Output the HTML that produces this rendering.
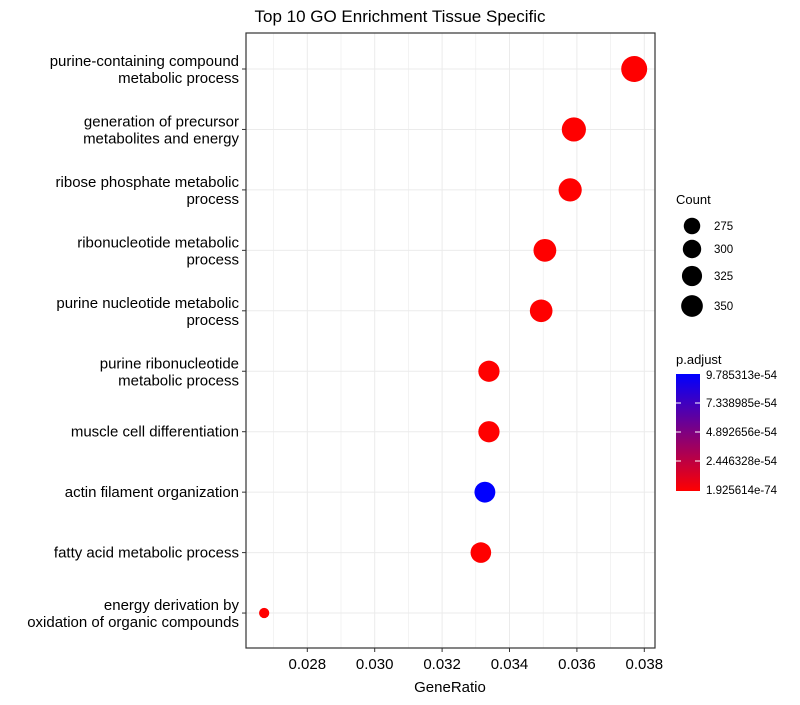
<!DOCTYPE html>
<html><head><meta charset="utf-8"><style>
body{margin:0;background:#fff;font-family:"Liberation Sans",Arial,sans-serif}
</style></head><body>
<svg id="chart" width="800" height="700" xmlns="http://www.w3.org/2000/svg">
<defs><linearGradient id="pg" x1="0" y1="1" x2="0" y2="0">
<stop offset="0" stop-color="#ff0000"/><stop offset="1" stop-color="#0000ff"/></linearGradient></defs>
<text x="400" y="22" font-size="17" text-anchor="middle">Top 10 GO Enrichment Tissue Specific</text>
<g id="grid"></g>
<g id="pts"></g>
<rect x="246" y="33" width="409" height="615" fill="none" stroke="#333" stroke-width="1.2"/>
<g id="axes"></g>
<text x="450" y="692" font-size="15" text-anchor="middle">GeneRatio</text>
<g>
<text x="676" y="204" font-size="13">Count</text>
<g id="sizeleg"></g>
</g>
<g>
<text x="676" y="364" font-size="13">p.adjust</text>
<rect x="676" y="374" width="24" height="117" fill="url(#pg)"/>
<g font-size="11.5">
<text x="706" y="379">9.785313e-54</text>
<text x="706" y="407">7.338985e-54</text>
<text x="706" y="436">4.892656e-54</text>
<text x="706" y="465">2.446328e-54</text>
<text x="706" y="494">1.925614e-74</text>
</g>
<g stroke="#fff" stroke-width="1"><line x1="676" y1="403" x2="681" y2="403"/><line x1="695" y1="403" x2="700" y2="403"/><line x1="676" y1="432" x2="681" y2="432"/><line x1="695" y1="432" x2="700" y2="432"/><line x1="676" y1="461" x2="681" y2="461"/><line x1="695" y1="461" x2="700" y2="461"/></g>
</g>
</svg>
<script>
const categories=[["purine-containing compound","metabolic process"],["generation of precursor","metabolites and energy"],["ribose phosphate metabolic","process"],["ribonucleotide metabolic","process"],["purine nucleotide metabolic","process"],["purine ribonucleotide","metabolic process"],["muscle cell differentiation"],["actin filament organization"],["fatty acid metabolic process"],["energy derivation by","oxidation of organic compounds"]];
const geneRatio=[0.03770,0.03591,0.03580,0.03505,0.03494,0.03339,0.03339,0.03327,0.03315,0.02672];
const counts=[377,352,340,335,333,316,316,312,309,222];
const padj=[0.0,0.0,0.0,0.0,0.0,0.0,0.0,9.785313,0.0,0.0];
const xTicks=[0.028,0.030,0.032,0.034,0.036,0.038];
const xTickLabels=["0.028","0.030","0.032","0.034","0.036","0.038"];
const legendCounts=[275,300,325,350];
const NS="http://www.w3.org/2000/svg";
const X=v=>307.3+(v-0.028)*33700;
const Y=i=>69+i*60.45;
const R=c=>Math.sqrt(Math.max(4,75+0.92*(c-275)));
const pmax=9.785313;
function col(p){const t=p/pmax;return `rgb(${Math.round(255*(1-t))},0,${Math.round(255*t)})`;}
function mk(tag,attrs,parent){const e=document.createElementNS(NS,tag);for(const k in attrs)e.setAttribute(k,attrs[k]);parent.appendChild(e);return e;}
const grid=document.getElementById('grid'),pts=document.getElementById('pts'),axes=document.getElementById('axes');
for(let v=0.027;v<=0.0385;v+=0.001){const x=X(v);if(x<246||x>655)continue;const major=Math.abs(Math.round(v*1000)%2)===0;
const l=mk('line',{x1:x,x2:x,y1:33,y2:648,stroke:'#ebebeb','stroke-width':major?1:0.6},grid);

}
categories.forEach((c,i)=>{const y=Y(i);
const gl=mk('line',{x1:246,x2:655,y1:y,y2:y,stroke:'#ebebeb'},grid);


mk('line',{x1:242,x2:246,y1:y,y2:y,stroke:'#333'},axes);
const t=mk('text',{x:239,'font-size':15,'text-anchor':'end'},axes);


const off=c.length===2?-3:5;
c.forEach((s,k)=>{const ts=mk('tspan',{x:239,y:y+off+k*17},t);ts.textContent=s;});
const p=mk('circle',{cx:X(geneRatio[i]),cy:y,r:R(counts[i]),fill:col(padj[i])},pts);


});
xTicks.forEach((v,i)=>{const x=X(v);mk('line',{x1:x,x2:x,y1:648,y2:652,stroke:'#333'},axes);
const t=mk('text',{x:x,y:669,'font-size':15,'text-anchor':'middle'},axes);t.textContent=xTickLabels[i];

});
const sl=document.getElementById('sizeleg');const ly=[226,249,276,306];
legendCounts.forEach((c,i)=>{const cc=mk('circle',{cx:692,cy:ly[i],r:R(c)*0.78+1.5,fill:'#000'},sl);


const t=mk('text',{x:714,y:ly[i]+4,'font-size':11.5},sl);t.textContent=c;

});
</script>
</body></html>
